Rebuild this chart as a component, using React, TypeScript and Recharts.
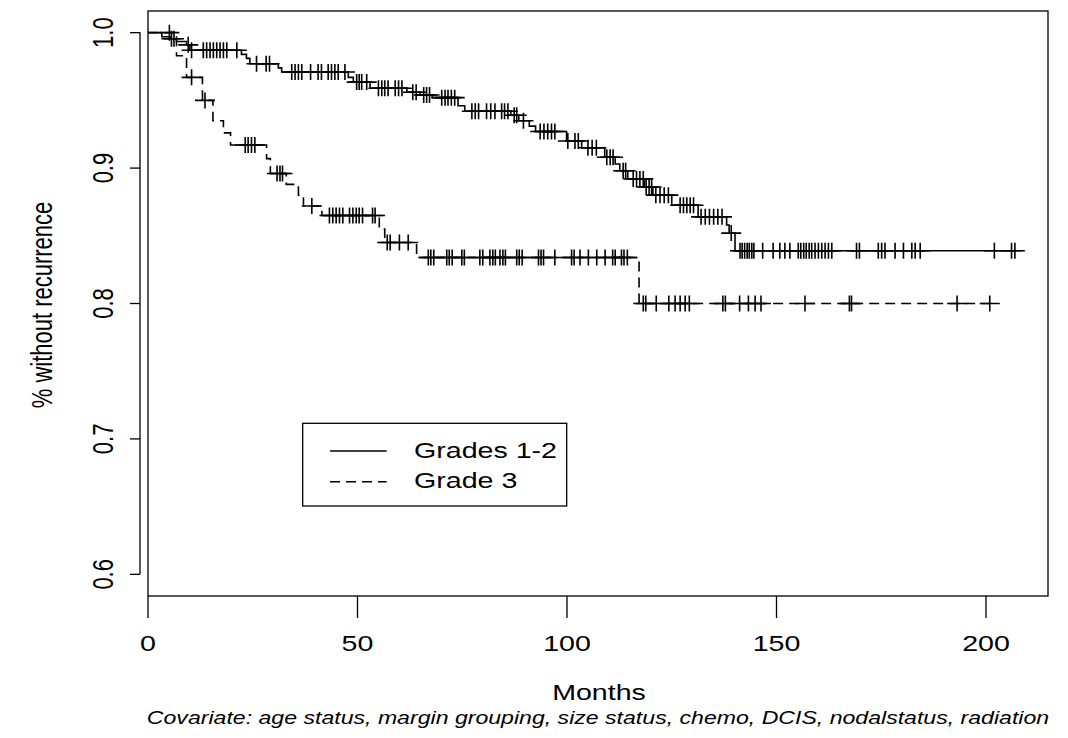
import React from 'react';
import { ComposedChart, Line, Scatter, XAxis, YAxis } from 'recharts';

// ---------- data ----------
const seriesNames = ['Grades 1-2', 'Grade 3'];
const xTicks = [0, 50, 100, 150, 200];
const yTicks = [0.6, 0.7, 0.8, 0.9, 1.0];
const xTitle = 'Months';
const yTitle = '% without recurrence';
const caption = 'Covariate: age status, margin grouping, size status, chemo, DCIS, nodalstatus, radiation';

// Grades 1-2: step times (months) and survival after each step
const grade12Times = [0, 3.3, 5.3, 6.8, 9.2, 10.0, 22.3, 23.5, 24.3, 31.1, 31.9, 47.8, 49.0, 53.0, 61.8, 65.0, 67.8, 74.0, 75.6, 86.6, 88.5, 91.0, 92.5, 99.9, 103.5, 109.0, 111.5, 112.6, 114.5, 118.5, 120.5, 125.0, 131.3, 138.1, 138.7, 140.1];
const grade12Surv = [1.0, 0.997, 0.9955, 0.9935, 0.991, 0.987, 0.984, 0.981, 0.977, 0.974, 0.971, 0.967, 0.9635, 0.959, 0.956, 0.954, 0.952, 0.946, 0.942, 0.939, 0.935, 0.931, 0.927, 0.920, 0.915, 0.908, 0.903, 0.898, 0.892, 0.886, 0.880, 0.8725, 0.864, 0.858, 0.852, 0.839];
const grade12End = 206.9;
const grade12Censor = [5.6, 6.2, 9.6, 10.4, 13.2, 14.0, 14.8, 15.6, 16.4, 17.2, 18.0, 18.8, 21.2, 25.9, 28.2, 29.0, 34.3, 35.1, 35.9, 36.7, 38.8, 40.6, 41.4, 43.0, 43.8, 44.6, 45.4, 47.0, 49.8, 50.4, 51.0, 52.2, 55.0, 55.8, 56.5, 57.3, 59.0, 59.8, 60.6, 63.2, 64.0, 65.8, 66.5, 67.2, 70.1, 70.9, 71.6, 72.4, 73.2, 77.3, 78.1, 78.9, 80.8, 81.8, 82.8, 84.4, 85.1, 85.9, 87.4, 88.0, 89.6, 93.6, 94.5, 95.4, 96.3, 97.1, 100.2, 101.9, 102.7, 105.0, 106.0, 107.0, 109.5, 110.3, 111.0, 113.4, 114.0, 115.8, 116.6, 117.4, 118.2, 118.9, 119.6, 120.2, 121.2, 122.2, 123.2, 124.2, 127.0, 127.8, 128.6, 129.4, 130.2, 132.0, 133.0, 134.0, 135.0, 136.0, 137.0, 139.2, 141.3, 141.8, 142.4, 143.0, 143.5, 144.1, 144.6, 146.7, 149.2, 150.8, 152.0, 153.2, 155.2, 155.8, 156.5, 157.1, 157.8, 158.4, 159.2, 160.0, 160.8, 161.6, 162.4, 163.2, 169.1, 169.8, 174.3, 175.1, 175.9, 178.3, 180.3, 182.3, 183.1, 184.3, 202.0, 206.1, 206.9];

// Grade 3
const grade3Times = [0, 6.8, 9.2, 13.0, 15.5, 18.0, 19.7, 28.3, 29.2, 33.0, 35.9, 37.1, 41.5, 55.2, 56.5, 64.1, 117.2];
const grade3Surv = [1.0, 0.983, 0.967, 0.95, 0.935, 0.926, 0.917, 0.907, 0.896, 0.888, 0.88, 0.872, 0.865, 0.855, 0.845, 0.834, 0.80];
const grade3End = 200.9;
const grade3Censor = [5.1, 10.4, 13.6, 23.2, 23.9, 24.7, 25.5, 30.8, 31.5, 32.1, 39.1, 43.3, 44.1, 44.9, 45.7, 46.5, 48.1, 48.9, 49.7, 50.4, 51.2, 53.6, 54.2, 57.1, 57.8, 60.0, 62.1, 66.9, 67.5, 68.2, 71.3, 71.9, 72.6, 74.9, 75.5, 79.2, 79.9, 81.6, 82.3, 82.9, 84.0, 84.7, 85.3, 88.0, 88.6, 89.3, 93.2, 93.8, 94.4, 97.1, 101.1, 101.7, 103.1, 105.1, 107.1, 109.1, 110.9, 111.5, 113.0, 113.6, 114.4, 118.2, 118.8, 121.3, 124.3, 125.8, 127.0, 128.2, 129.2, 137.2, 137.8, 141.2, 143.3, 144.9, 146.3, 156.8, 167.4, 167.9, 193.1, 200.9];

// ---------- helpers ----------
type Pt = { t: number; s: number };
function buildCurve(times: number[], surv: number[], end: number): Pt[] {
  const pts = times.map((t, i) => ({ t, s: surv[i] }));
  pts.push({ t: end, s: surv[surv.length - 1] });
  return pts;
}
function survAt(times: number[], surv: number[], t: number): number {
  let s = surv[0];
  for (let i = 0; i < times.length; i++) if (times[i] <= t) s = surv[i];
  return s;
}
function buildCensor(times: number[], surv: number[], cens: number[]): Pt[] {
  return cens.map((t) => ({ t, s: survAt(times, surv, t) }));
}

const curve12 = buildCurve(grade12Times, grade12Surv, grade12End);
const curve3 = buildCurve(grade3Times, grade3Surv, grade3End);
const cens12 = buildCensor(grade12Times, grade12Surv, grade12Censor);
const cens3 = buildCensor(grade3Times, grade3Surv, grade3Censor);

const FONT = '"Liberation Sans", Arial, Helvetica, sans-serif';
const SX = 1.3; // horizontal stretch of the original picture
const DASH = '10 6';

const PlusMark = (props: any) => {
  const { cx, cy } = props;
  if (cx == null || cy == null) return null;
  return (
    <path
      d={`M${cx - 10},${cy}H${cx + 10}M${cx},${cy - 8}V${cy + 8}`}
      stroke="#000"
      strokeWidth={1.6}
      fill="none"
    />
  );
};

const renderXTick = (props: any) => {
  const { x, y, payload } = props;
  return (
    <g key={`xt-${payload.value}`}>
      <line x1={x} x2={x} y1={y} y2={y + 22} stroke="#000" strokeWidth={1.3} />
      <text
        transform={`translate(${x},${y + 55}) scale(${SX},1)`}
        textAnchor="middle"
        fontSize={22}
        fontFamily={FONT}
        fill="#000"
      >
        {String(payload.value)}
      </text>
    </g>
  );
};

const renderYTick = (props: any) => {
  const { x, y, payload } = props;
  return (
    <g key={`yt-${payload.value}`}>
      <line x1={x - 18} x2={x - 8} y1={y} y2={y} stroke="#000" strokeWidth={1.3} />
      <text
        transform={`translate(${x - 35},${y}) scale(${SX},1) rotate(-90)`}
        textAnchor="middle"
        fontSize={22}
        fontFamily={FONT}
        fill="#000"
      >
        {Number(payload.value).toFixed(1)}
      </text>
    </g>
  );
};

export default function App() {
  return (
    <div style={{ position: 'absolute', left: 0, top: 0, width: 1068, height: 738, background: '#fff' }}>
      <ComposedChart width={1068} height={738} margin={{ top: 11, right: 20, bottom: 82, left: 88 }}>
        <XAxis
          type="number"
          dataKey="t"
          domain={[0, 214.8]}
          allowDataOverflow
          ticks={xTicks}
          interval={0}
          height={60}
          tickSize={0}
          tickMargin={0}
          axisLine={false}
          tickLine={false}
          tick={renderXTick}
        />
        <YAxis
          type="number"
          dataKey="s"
          domain={[0.584, 1.016]}
          allowDataOverflow
          ticks={yTicks}
          interval={0}
          width={60}
          tickSize={0}
          tickMargin={0}
          axisLine={false}
          tickLine={false}
          tick={renderYTick}
        />
        <Line
          name={seriesNames[0]}
          data={curve12}
          dataKey="s"
          type="stepAfter"
          stroke="#000"
          strokeWidth={1.6}
          dot={false}
          activeDot={false}
          isAnimationActive={false}
        />
        <Line
          name={seriesNames[1]}
          data={curve3}
          dataKey="s"
          type="stepAfter"
          stroke="#000"
          strokeWidth={1.6}
          strokeDasharray={DASH}
          dot={false}
          activeDot={false}
          isAnimationActive={false}
        />
        <Scatter name="cens12" data={cens12} dataKey="s" shape={PlusMark} legendType="none" isAnimationActive={false} />
        <Scatter name="cens3" data={cens3} dataKey="s" shape={PlusMark} legendType="none" isAnimationActive={false} />
      </ComposedChart>
      <svg
        width={1068}
        height={738}
        style={{ position: 'absolute', left: 0, top: 0, pointerEvents: 'none' }}
      >
        <rect x={148} y={11} width={900} height={585} fill="none" stroke="#000" strokeWidth={1.3} />
        <line x1={140} x2={140} y1={32.3} y2={574} stroke="#000" strokeWidth={1.3} />
        <text
          transform={`translate(52,305) scale(${SX},1) rotate(-90)`}
          textAnchor="middle"
          fontSize={22}
          fontFamily={FONT}
          fill="#000"
        >
          {yTitle}
        </text>
        <text
          transform={`translate(599,700) scale(${SX},1)`}
          textAnchor="middle"
          fontSize={22}
          fontFamily={FONT}
          fill="#000"
        >
          {xTitle}
        </text>
        <text
          transform={`translate(598,724) scale(1.32,1)`}
          textAnchor="middle"
          fontSize={17.5}
          fontStyle="italic"
          fontFamily={FONT}
          fill="#000"
        >
          {caption}
        </text>
        <g transform="translate(302,423)">
          <rect x={0.7} y={0.3} width={264} height={82.7} fill="#fff" stroke="#000" strokeWidth={1.3} />
          {seriesNames.map((name, i) => {
            const ly = 28 + i * 30.7;
            return (
              <g key={name}>
                <line x1={28} x2={84.7} y1={ly} y2={ly} stroke="#000" strokeWidth={1.4} strokeDasharray={i === 1 ? DASH : undefined} />
                <text
                  transform={`translate(112,${ly + 6.5}) scale(${SX},1)`}
                  fontSize={22}
                  fontFamily={FONT}
                  fill="#000"
                >
                  {name}
                </text>
              </g>
            );
          })}
        </g>
      </svg>
    </div>
  );
}
